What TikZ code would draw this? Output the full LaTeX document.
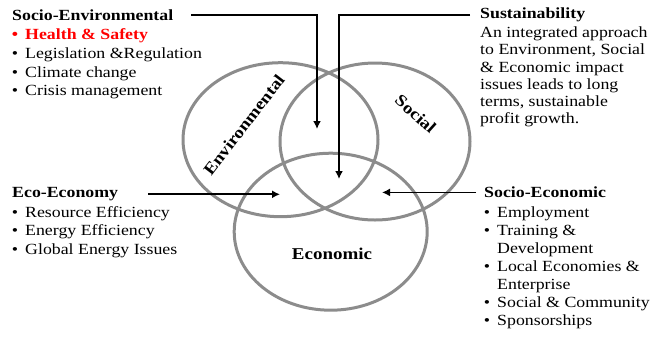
\documentclass[tikz,border=0pt]{standalone}
\usepackage{fontspec}
\setmainfont[FakeStretch=1.15]{Liberation Serif}
\usetikzlibrary{positioning,arrows.meta,shapes.geometric}
\definecolor{ringgrey}{HTML}{8C8C8C}
\definecolor{alertred}{HTML}{FF0000}
\newcommand{\lbul}{\llap{\textbullet\hspace{7pt}}}

\begin{document}
\begin{tikzpicture}[x=1pt, y=-1pt,
    every node/.style={inner sep=0pt},
    ring/.style={draw=ringgrey, line width=3pt, ellipse},
    ringlabel/.style={font=\bfseries\fontsize{16.5}{18}\selectfont},
    head/.style={font=\bfseries\fontsize{15.5}{18}\selectfont, anchor=base west},
    items/.style={font=\fontsize{15.5}{18.6}\selectfont, align=left},
    link/.style={-{Latex[length=8pt, width=8pt]}, line width=1.8pt}
  ]
  \useasboundingbox (0,0) rectangle (662,341);

  % the three rings
  \node[ring, minimum width=195pt, minimum height=154pt] (env) at (280.5,139.7) {};
  \node[ring, minimum width=190pt, minimum height=157pt] (soc) at (375,141.5) {};
  \node[ring, minimum width=193pt, minimum height=157pt] (eco) at (330.7,231.7) {};

  \node[ringlabel, rotate=52.5] (envlabel) at (244,125) {Environmental};
  \node[ringlabel, rotate=-42] (soclabel) at (415.7,114) {Social};
  \node[ringlabel] (ecolabel) at (332,254) {Economic};

  % the four notes round the rings
  \node[head] (senv) at (12,20) {Socio-Environmental};
  \node[items, below=8.8pt of senv.base west, anchor=north west, xshift=13pt] (senvlist)
    {{\color{alertred}\bfseries\lbul Health \& Safety}\\
     \lbul Legislation \&Regulation\\
     \lbul Climate change\\
     \lbul Crisis management};

  \node[head] (sust) at (480,18.5) {Sustainability};
  \node[items, font=\fontsize{15.5}{17.2}\selectfont,
        below=8.3pt of sust.base west, anchor=north west] (sustnote)
    {An integrated approach\\to Environment, Social\\\& Economic impact\\
     issues leads to long\\terms, sustainable\\profit growth.};

  \node[head] (ecoeco) at (12,197.7) {Eco-Economy};
  \node[items, below=8.5pt of ecoeco.base west, anchor=north west, xshift=13pt] (ecolist)
    {\lbul Resource Efficiency\\
     \lbul Energy Efficiency\\
     \lbul Global Energy Issues};

  \node[head] (soceco) at (484,197.7) {Socio-Economic};
  \node[items, font=\fontsize{15.5}{18.1}\selectfont,
        below=8.5pt of soceco.base west, anchor=north west, xshift=13pt] (socecolist)
    {\lbul Employment\\
     \lbul Training \&\\Development\\
     \lbul Local Economies \&\\Enterprise\\
     \lbul Social \& Community\\
     \lbul Sponsorships};

  \coordinate (envtip) at (317,129);
  \coordinate (coretip) at (339,179);
  \coordinate (ecotip) at (280,194.5);
  \coordinate (soctip) at (382,193);

  \draw[link, shorten <=18pt] (senv.east) -| (envtip);
  \draw[link, shorten <=10pt] (sust.west) -| (coretip);
  \draw[link, shorten <=30pt] (ecoeco.east) -- (ecoeco.east -| ecotip);
  \draw[link, shorten <=8pt] (soceco.west) -- (soceco.west -| soctip);

\end{tikzpicture}
\end{document}
